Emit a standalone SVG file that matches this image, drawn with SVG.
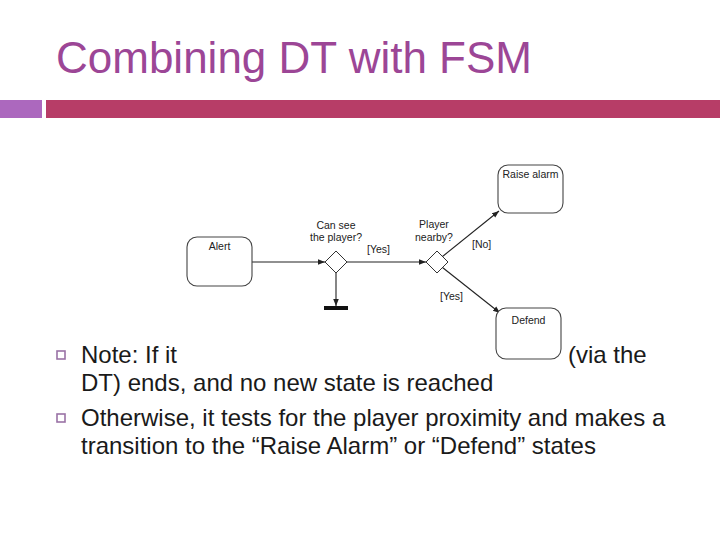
<svg xmlns="http://www.w3.org/2000/svg" width="720" height="540" viewBox="0 0 720 540">
  <defs>
    <marker id="arr" viewBox="0 0 10 10" refX="10" refY="5" markerWidth="7" markerHeight="7" orient="auto" markerUnits="userSpaceOnUse">
      <path d="M0,1 L10,5 L0,9 z" fill="#222"/>
    </marker>
    <style>
      .title { font-family: "Liberation Sans", Arial, sans-serif; font-size: 44px; fill: #9C4696; }
      .body { font-family: "Liberation Sans", Arial, sans-serif; font-size: 24px; fill: #1a1a1a; }
      .bullet { fill: none; stroke: #9A72A6; stroke-width: 1.6; }
      .state { fill: #fff; stroke: #444; stroke-width: 1.1; }
      .dec { fill: #fff; stroke: #333; stroke-width: 1; }
      .lbl { font-family: "Liberation Sans", Arial, sans-serif; font-size: 10.5px; fill: #222; }
      .conn { fill: none; stroke: #222; stroke-width: 1.1; }
    </style>
  </defs>
  <rect width="720" height="540" fill="#fff"/>

  <text class="title" x="56" y="73">Combining DT with FSM</text>
  <rect x="0" y="100" width="42" height="18" fill="#AC68BE"/>
  <rect x="46" y="100" width="674" height="18" fill="#B73D67"/>

  <rect class="bullet" x="57" y="351" width="8" height="8"/>
  <rect class="bullet" x="57" y="414" width="8" height="8"/>
  <text class="body" x="81" y="363">Note: If it</text>
  <text class="body" x="568" y="363">(via the</text>
  <text class="body" x="81" y="391">DT) ends, and no new state is reached</text>
  <text class="body" x="81" y="426">Otherwise, it tests for the player proximity and makes a</text>
  <text class="body" x="81" y="454">transition to the “Raise Alarm” or “Defend” states</text>

  <g id="connectors">
    <path class="conn" d="M252,262 L325,262" marker-end="url(#arr)"/>
    <path class="conn" d="M336,273 L336,306" marker-end="url(#arr)"/>
    <rect x="324" y="306" width="24" height="4" fill="#111"/>
    <path class="conn" d="M347,262 L426,262" marker-end="url(#arr)"/>
    <path class="conn" d="M442.5,256.5 L499,211" marker-end="url(#arr)"/>
    <path class="conn" d="M442.5,267.5 L500,313" marker-end="url(#arr)"/>
    <text class="lbl" x="367" y="253">[Yes]</text>
    <text class="lbl" x="472" y="248">[No]</text>
    <text class="lbl" x="440" y="300">[Yes]</text>
  </g>

  <g id="alert">
    <rect class="state" x="187" y="237" width="65" height="49" rx="10"/>
    <text class="lbl" x="219.5" y="250" text-anchor="middle">Alert</text>
  </g>
  <g id="can-see">
    <polygon class="dec" points="336,251 347,262 336,273 325,262"/>
    <text class="lbl" x="336" y="229" text-anchor="middle">Can see</text>
    <text class="lbl" x="336" y="241" text-anchor="middle">the player?</text>
  </g>
  <g id="nearby">
    <polygon class="dec" points="437,251 448,262 437,273 426,262"/>
    <text class="lbl" x="434" y="228" text-anchor="middle">Player</text>
    <text class="lbl" x="434" y="241" text-anchor="middle">nearby?</text>
  </g>
  <g id="raise-alarm">
    <rect class="state" x="498" y="165" width="65" height="48" rx="10"/>
    <text class="lbl" x="530.5" y="178" text-anchor="middle">Raise alarm</text>
  </g>
  <g id="defend">
    <rect class="state" x="496" y="308" width="65" height="51" rx="10"/>
    <text class="lbl" x="528.5" y="324" text-anchor="middle">Defend</text>
  </g>
</svg>
